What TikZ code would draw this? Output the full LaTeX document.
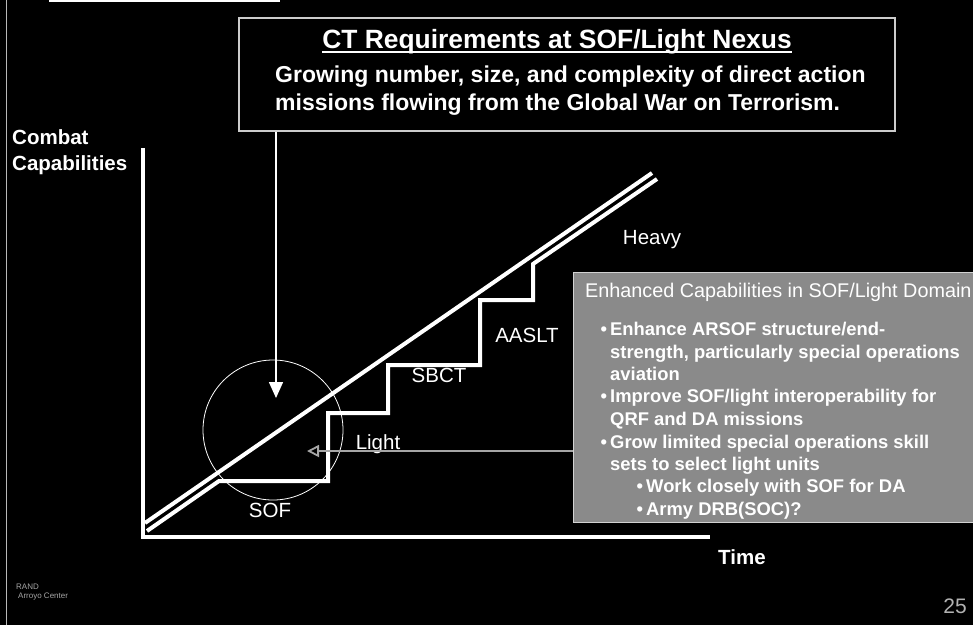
\documentclass[tikz,border=0pt]{standalone}
\usepackage{fontspec}
\setmainfont{Liberation Sans}
\usetikzlibrary{arrows.meta, positioning, calc}

\definecolor{slidegray}{RGB}{138,138,138}

\begin{document}
\begin{tikzpicture}[x=1pt, y=-1pt,
    axis/.style={white, line width=4pt, line join=miter},
    stair/.style={white, line width=4pt, line join=miter},
    lbl/.style={text=white, font=\fontsize{20.5}{24}\selectfont, inner sep=0pt},
    axlbl/.style={text=white, font=\bfseries\fontsize{20.5}{24}\selectfont, inner sep=0pt, anchor=base west},
    reqtxt/.style={text=white, font=\bfseries\fontsize{23}{28}\selectfont, inner sep=0pt, anchor=base west},
    captxt/.style={text=white, font=\bfseries\fontsize{18.4}{22}\selectfont, inner sep=0pt, anchor=base west},
    >=Stealth
]
\fill[black] (0,0) rectangle (973,625);
\clip (0,0) rectangle (973,625);

% slide edge and cut-off title rule
\draw[gray!55, line width=0.8pt] (6,0) -- (6,625);
\draw[white, line width=2pt] (49,1) -- (280,1);

% CT requirements box
\node[draw=white!80!black, line width=1.5pt, minimum width=656, minimum height=113, anchor=north west, inner sep=0pt] (reqbox) at (238,17) {};
\node[text=white, font=\bfseries\fontsize{26.4}{30}\selectfont, inner sep=0pt, anchor=base] (reqtitle) at (557,48) {CT Requirements at SOF/Light Nexus};
\draw[white, line width=1.8pt] ([yshift=-4pt]reqtitle.base west) -- ([yshift=-4pt]reqtitle.base east);
\node[reqtxt] (reqline1) at (275,82) {Growing number, size, and complexity of direct action};
\node[reqtxt] (reqline2) at (275,110) {missions flowing from the Global War on Terrorism.};

% Axes
\coordinate (ytop) at (143,148);
\coordinate (origin) at (143,537);
\coordinate (xend) at (710,537);
\draw[axis] (ytop) -- (origin) -- (xend);
\node[axlbl] (ylbl1) at (12,144) {Combat};
\node[axlbl] (ylbl2) at (12,170) {Capabilities};
\node[axlbl] (tlbl) at (718,564) {Time};

% Capability lines
\draw[white, line width=4pt] (145,523) -- (652,173);
\draw[stair] (147,531) -- (219,481) -- (328,481) -- (328,413) -- (388,413) -- (388,365)
    -- (480,365) -- (480,300) -- (533,300) -- (533,264) -- (657,179);

% Force labels
\node[lbl] (sof) at (270,510) {SOF};
\node[lbl] (light) at (378,444) {Light};
\node[lbl] (sbct) at (439,375) {SBCT};
\node[lbl] (aaslt) at (527,335) {AASLT};
\node[lbl] (heavy) at (652,240) {Heavy};

% Nexus circle and arrow from box
\node[draw=white, circle, minimum size=140, line width=0.8pt, inner sep=0pt] (nexus) at (273,430) {};
\coordinate (nexustip) at (276,398);
\draw[white, line width=1.5pt, -{Triangle[length=16pt,width=14pt]}] (reqbox.south -| nexustip) -- (nexustip);

% Enhanced capabilities box
\node[fill=slidegray, draw=gray!35!white, line width=1.2pt, minimum width=410, minimum height=250, anchor=north west, inner sep=0pt] (capbox) at (573,272) {};
\node[text=white, font=\fontsize{19.8}{24}\selectfont, inner sep=0pt, anchor=base west] (captitle) at (585,297) {Enhanced Capabilities in SOF/Light Domain};
\node[captxt] (cap1) at (610,335) {\llap{\textbullet\,}Enhance ARSOF structure/end-};
\node[captxt] (cap2) at (610,358) {strength, particularly special operations};
\node[captxt] (cap3) at (610,380) {aviation};
\node[captxt] (cap4) at (610,402) {\llap{\textbullet\,}Improve SOF/light interoperability for};
\node[captxt] (cap5) at (610,425) {QRF and DA missions};
\node[captxt] (cap6) at (610,448) {\llap{\textbullet\,}Grow limited special operations skill};
\node[captxt] (cap7) at (610,470) {sets to select light units};
\node[captxt] (cap8) at (646,492) {\llap{\textbullet\,}Work closely with SOF for DA};
\node[captxt] (cap9) at (646,515) {\llap{\textbullet\,}Army DRB(SOC)?};

% Arrow from box to Light
\coordinate (lighttip) at (307,451);
\draw[gray!70, line width=1.8pt, -{Triangle[open, length=12pt, width=12pt]}] (capbox.west |- lighttip) -- (lighttip);

% Footer
\node[text=gray!70, font=\fontsize{8}{9}\selectfont, inner sep=0pt, anchor=base west] (rand) at (16,589) {RAND};
\node[text=gray!70, font=\fontsize{8}{9}\selectfont, inner sep=0pt, anchor=base west] (arroyo) at (18,598) {Arroyo Center};
\node[text=gray!60, font=\fontsize{21}{24}\selectfont, inner sep=0pt, anchor=base east] (pagenum) at (967,613) {25};

\end{tikzpicture}
\end{document}
